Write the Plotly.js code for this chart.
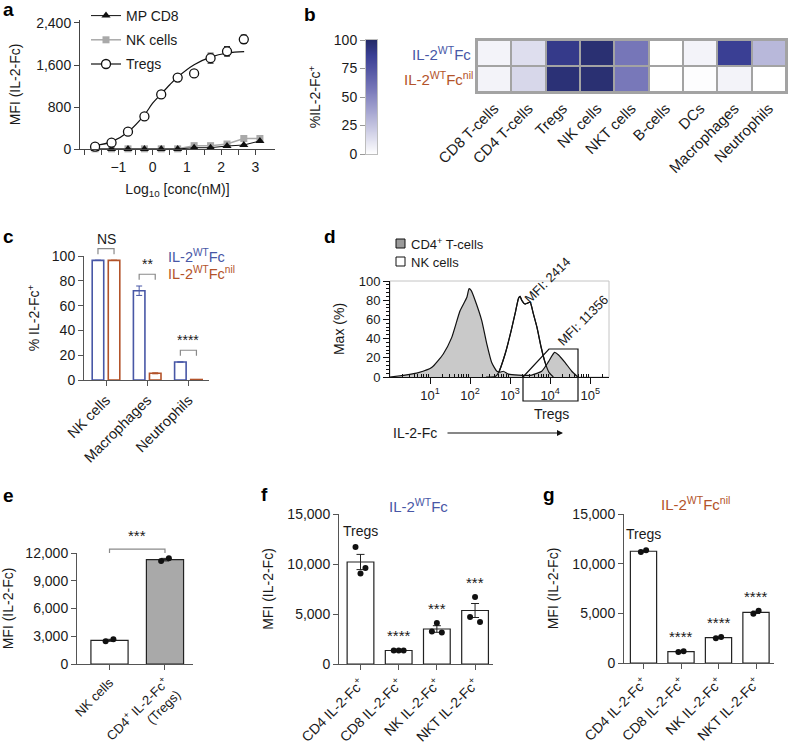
<!DOCTYPE html>
<html><head><meta charset="utf-8">
<script src="https://cdn.plot.ly/plotly-3.0.1.min.js"></script>
<style>html,body{margin:0;padding:0;background:#fff}#chart{width:788px;height:746px}</style>
</head><body><div id="chart"></div>
<script>
// ================= DATA =================
// (a) binding curves
const aLogConc = [-1.68, -1.20, -0.72, -0.24, 0.25, 0.73, 1.21, 1.69, 2.17, 2.66, 3.13];
const aTregs = [45, 120, 330, 620, 1040, 1360, 1440, 1730, 1860, 2090];
const aTregsErr = [0, 0, 0, 0, 65, 0, 0, 95, 90, 80];
const aNK = [3, 3, 3, 3, 3, 3, 64, 64, 95, 200, 200];
const aMPCD8 = [0, 0, 0, 0, 0, 0, 25, 25, 57, 76, 153];
const aFitLogConc = [-1.68, -1.19, -0.71, -0.24, 0, 0.25, 0.5, 0.73, 1.21, 1.69, 2.19, 2.67];
const aFitMFI = [64, 140, 330, 650, 873, 1050, 1223, 1370, 1605, 1750, 1828, 1853];
const aTickVals = [-1, 0, 1, 2, 3];
const aYTicks = [0, 800, 1600, 2400];

// (b) heatmap
const bCells = ['CD8 T-cells', 'CD4 T-cells', 'Tregs', 'NK cells', 'NKT cells', 'B-cells', 'DCs', 'Macrophages', 'Neutrophils'];
const bWT = [5, 14, 90, 97, 58, 0, 5, 87, 30];
const bNil = [5, 17, 96, 97, 57, 0, 1, 5, 0];
const bScaleTicks = [0, 25, 50, 75, 100];

// (c) % IL-2-Fc+
const cCells = ['NK cells', 'Macrophages', 'Neutrophils'];
const cWT = [96.5, 72, 14.5];
const cWTErr = [0, 3.8, 0];
const cNil = [96.5, 5.4, 0.4];
const cNilErr = [0, 0.4, 0];
const cSig = ['NS', '**', '****'];

// (d) histograms (fluorescence intensity, % of max)
const dCD4X = [1, 2.37, 5.13, 10.96, 21.4, 34.7, 56.2, 83.2, 94.4, 107.2, 133.4, 195, 263, 346.7, 467.7, 562.3, 676.1, 912, 1622, 3467, 6166, 9120, 12882, 16218, 23714, 34674, 48978];
const dCD4Y = [0, 2, 4.5, 9.8, 24, 41, 69, 83, 92, 90, 80, 59, 34, 15, 6, 5, 6, 3, 2, 2, 6, 16, 25.6, 23, 15, 6, 0];
const dNKX = [251, 421.7, 512.9, 749.9, 1059, 1380, 1622, 1778, 1950, 2371, 2754, 3162, 3802, 4677, 5957, 7499, 9441, 12023];
const dNKY = [0, 0.5, 4.5, 24, 48, 69, 82, 84, 80, 76, 77, 78, 66, 52, 31, 15, 4.5, 0];
const dTickVals = [10, 100, 1000, 10000, 100000];
const dTickText = ['10<sup>1</sup>', '10<sup>2</sup>', '10<sup>3</sup>', '10<sup>4</sup>', '10<sup>5</sup>'];

// (e)
const eCells = ['NK cells', 'CD4<sup>+</sup> IL-2-Fc<sup>+</sup><br>(Tregs)'];
const eMean = [2560, 11280];
const eSem = [110, 140];
const ePoints = [[2450, 2680], [11130, 11420]];
const eSig = '***';

// (f) IL-2 WT Fc
const fgCells = ['CD4 IL-2-Fc<sup>+</sup>', 'CD8 IL-2-Fc<sup>+</sup>', 'NK IL-2-Fc<sup>+</sup>', 'NKT IL-2-Fc<sup>+</sup>'];
const fMean = [10200, 1350, 3500, 5350];
const fSem = [760, 40, 330, 700];
const fPoints = [[11700, 9060, 9590], [1360, 1360, 1360], [3250, 4100, 3150], [4700, 6700, 4200]];
const fSig = ['', '****', '***', '***'];

// (g) IL-2 WT Fc nil
const gMean = [11250, 1150, 2550, 5100];
const gSem = [80, 35, 60, 120];
const gPoints = [[11180, 11350], [1100, 1180], [2480, 2620], [4970, 5250]];
const gSig = ['', '****', '****', '****'];

// ================= LAYOUT HELPERS =================
const W = 788, H = 746;
const BLUE = '#4857a6', BROWN = '#b3532a', AX = '#444', TXT = '#1a1a1a';
const FONT = 'Liberation Sans, Arial, Helvetica, sans-serif';
const X = (a, b) => [a / W, b / W];
const Y = (top, bottom) => [1 - bottom / H, 1 - top / H];
const pxX = x => x / W, pxY = y => 1 - y / H;

function baseAx(extra) {
  return Object.assign({
    showline: true, linecolor: AX, linewidth: 1, ticks: 'outside', ticklen: 5, tickcolor: AX, tickwidth: 1,
    showgrid: false, zeroline: false, tickfont: {size: 14, color: TXT, family: FONT}, fixedrange: true, automargin: false
  }, extra);
}
function ttl(text, standoff, size) { return {text: text, standoff: standoff, font: {size: size || 14, color: TXT, family: FONT}}; }

const layout = {
  width: W, height: H, margin: {l: 0, r: 0, t: 0, b: 0, pad: 0},
  paper_bgcolor: '#ffffff', plot_bgcolor: 'rgba(0,0,0,0)',
  font: {family: FONT, size: 14, color: TXT},
  barmode: 'overlay', showlegend: true,
  legend: {x: 86 / W, xanchor: 'left', y: 1, yanchor: 'top', bgcolor: 'rgba(0,0,0,0)',
           font: {size: 14, color: TXT}, itemwidth: 30, traceorder: 'grouped', tracegroupgap: 3},
  // (a)
  xaxis: baseAx({domain: X(80, 275), range: [-2.12, 3.57], anchor: 'y', tickvals: aTickVals,
    minor: {tickvals: [-2, -1.5, -0.5, 0.5, 1.5, 2.5], ticks: 'outside', ticklen: 5, tickcolor: AX},
    title: ttl('Log<sub>10</sub> [conc(nM)]', 10)}),
  yaxis: baseAx({domain: Y(20, 149), range: [0, 2457], anchor: 'x', tickvals: aYTicks, tickformat: ',',
    title: ttl('MFI (IL-2-Fc)', 12)}),
  // (b) heatmap
  xaxis2: baseAx({domain: X(477, 786), range: [-0.5, 8.5], anchor: 'y2', tickvals: bCells.map((c, i) => i), ticktext: bCells,
    tickangle: -45, ticks: '', showline: true, mirror: true, linecolor: '#a3a3a3', linewidth: 2, tickfont: {size: 15, color: TXT}}),
  yaxis2: baseAx({domain: Y(40, 92), range: [1.5, -0.5], anchor: 'x2', showticklabels: false, ticks: '',
    showline: true, mirror: true, linecolor: '#a3a3a3', linewidth: 2}),
  // (b) scale bar
  xaxis3: baseAx({domain: X(366, 377), range: [-0.5, 0.5], anchor: 'y3', showticklabels: false, ticks: '',
    linecolor: '#bdbdbd', mirror: true}),
  yaxis3: baseAx({domain: Y(40, 154), range: [0, 100], anchor: 'x3', tickvals: bScaleTicks, linecolor: '#bdbdbd', mirror: true,
    tickcolor: '#999', tickfont: {size: 14, color: TXT}, title: ttl('%IL-2-Fc<sup>+</sup>', 9)}),
  // (c)
  xaxis4: baseAx({domain: X(84, 209), range: [-0.534, 2.5], anchor: 'y4', tickvals: [0, 1, 2], ticktext: cCells, tickangle: -45,
    linecolor: '#555', tickcolor: '#555', tickfont: {size: 14.5, color: TXT}}),
  yaxis4: baseAx({domain: Y(256, 380), range: [0, 100], anchor: 'x4', dtick: 20, linecolor: '#555', tickcolor: '#555',
    title: ttl('% IL-2-Fc<sup>+</sup>', 8)}),
  // (d)
  xaxis5: baseAx({type: 'log', domain: X(390, 609), range: [0, 5.47], anchor: 'y5', tickvals: dTickVals, ticktext: dTickText,
    ticklen: 6, linecolor: '#111', tickcolor: '#111', tickfont: {size: 13, color: TXT},
    minor: {tickvals: [0, 1, 2, 3, 4, 5].flatMap(p => [2, 3, 4, 5, 6, 7, 8, 9].map(k => k * Math.pow(10, p))), ticks: 'inside', ticklen: 3, tickcolor: '#111'}}),
  yaxis5: baseAx({domain: Y(281, 377), range: [0, 100], anchor: 'x5', dtick: 20, ticklen: 6, linecolor: '#111', tickcolor: '#111',
    tickfont: {size: 13, color: TXT}, minor: {dtick: 4, ticks: 'outside', ticklen: 3, tickcolor: '#111'},
    title: ttl('Max (%)', 10)}),
  // (e)
  xaxis6: baseAx({domain: X(77, 193), range: [-0.586, 1.505], anchor: 'y6', tickvals: [0, 1], ticktext: eCells, tickangle: -45,
    tickfont: {size: 13, color: TXT}, linecolor: '#555', tickcolor: '#555'}),
  yaxis6: baseAx({domain: Y(553, 664), range: [0, 12000], anchor: 'x6', tickvals: [0, 3000, 6000, 9000, 12000], tickformat: ',',
    linecolor: '#555', tickcolor: '#555', title: ttl('MFI (IL-2-Fc)', 12)}),
  // (f)
  xaxis7: baseAx({domain: X(339, 493), range: [-0.563, 3.47], anchor: 'y7', tickvals: [0, 1, 2, 3], ticktext: fgCells, tickangle: -45,
    linecolor: '#555', tickcolor: '#555'}),
  yaxis7: baseAx({domain: Y(514, 664), range: [0, 15000], anchor: 'x7', dtick: 5000, tickformat: ',', linecolor: '#555', tickcolor: '#555',
    title: ttl('MFI (IL-2-Fc)', 10)}),
  // (g)
  xaxis8: baseAx({domain: X(624, 774), range: [-0.52, 3.48], anchor: 'y8', tickvals: [0, 1, 2, 3], ticktext: fgCells, tickangle: -45,
    linecolor: '#555', tickcolor: '#555'}),
  yaxis8: baseAx({domain: Y(514, 663), range: [0, 15000], anchor: 'x8', dtick: 5000, tickformat: ',', linecolor: '#555', tickcolor: '#555',
    title: ttl('MFI (IL-2-Fc)', 10)}),
  shapes: [], annotations: []
};

// data -> paper converters (for brackets / labels placed outside ranges)
function paperX(ax, v) {
  const a = layout[ax], r = a.range; const val = a.type === 'log' ? Math.log10(v) : v;
  return a.domain[0] + (val - r[0]) / (r[1] - r[0]) * (a.domain[1] - a.domain[0]);
}
function paperY(ax, v) {
  const a = layout[ax], r = a.range;
  return a.domain[0] + (v - r[0]) / (r[1] - r[0]) * (a.domain[1] - a.domain[0]);
}
function note(text, x, y, opt) {
  layout.annotations.push(Object.assign({text: text, x: x, y: y, xref: 'paper', yref: 'paper', showarrow: false,
    xanchor: 'center', yanchor: 'middle', font: {size: 14, color: TXT, family: FONT}}, opt || {}));
}
function bracket(xa, ya, x0, x1, yTop, leg, color) {
  const X0 = paperX(xa, x0), X1 = paperX(xa, x1), YT = paperY(ya, yTop), YL = paperY(ya, yTop - leg);
  layout.shapes.push({type: 'path', xref: 'paper', yref: 'paper',
    path: `M${X0},${YL} L${X0},${YT} L${X1},${YT} L${X1},${YL}`, line: {color: color, width: 1.2}});
}

// ================= TRACES =================
const traces = [];
// (a)
traces.push({type: 'scatter', x: aLogConc, y: aNK, mode: 'lines+markers', name: 'NK cells', xaxis: 'x', yaxis: 'y', legendrank: 2,
  line: {color: '#a9a9a9', width: 1.5}, marker: {symbol: 'square', size: 7, color: '#a9a9a9'}, cliponaxis: false, legendgroup: 'a2'});
traces.push({type: 'scatter', x: aLogConc, y: aMPCD8, mode: 'lines+markers', name: 'MP CD8', xaxis: 'x', yaxis: 'y', legendrank: 1,
  line: {color: '#111', width: 1}, marker: {symbol: 'triangle-up', size: 8, color: '#111'}, cliponaxis: false, legendgroup: 'a1'});
traces.push({type: 'scatter', x: aFitLogConc, y: aFitMFI, mode: 'lines', xaxis: 'x', yaxis: 'y', showlegend: false,
  line: {color: '#111', width: 1.2, shape: 'spline', smoothing: 1}});
traces.push({type: 'scatter', x: aLogConc.slice(0, aTregs.length), y: aTregs, mode: 'markers', xaxis: 'x', yaxis: 'y', showlegend: false,
  marker: {symbol: 'circle', size: 9, color: '#fff', line: {color: '#111', width: 1.3}}, cliponaxis: false,
  error_y: {type: 'data', array: aTregsErr, color: '#111', thickness: 1, width: 3}});
traces.push({type: 'scatter', x: [null], y: [null], mode: 'lines+markers', name: 'Tregs', xaxis: 'x', yaxis: 'y', legendgroup: 'a3', legendrank: 3,
  line: {color: '#111', width: 1.2}, marker: {symbol: 'circle', size: 9, color: '#fff', line: {color: '#111', width: 1.3}}});

// (b)
const bScale = [[0, '#ffffff'], [0.58, '#7676b8'], [0.87, '#3a3f94'], [1, '#252b68']];
traces.push({type: 'heatmap', x: bCells.map((c, i) => i), y: [0, 1], z: [bWT, bNil], xaxis: 'x2', yaxis: 'y2',
  colorscale: bScale, zmin: 0, zmax: 100, showscale: false, xgap: 2, ygap: 2, hoverinfo: 'skip', showlegend: false});
traces.push({type: 'heatmap', x: [0], y: bScaleTicks, z: bScaleTicks.map(v => [v]), xaxis: 'x3', yaxis: 'y3', zsmooth: 'best',
  colorscale: bScale, zmin: 0, zmax: 100, showscale: false, hoverinfo: 'skip', showlegend: false});
layout.shapes.push({type: 'rect', xref: 'x2 domain', yref: 'y2 domain', x0: 0, x1: 1, y0: 0, y1: 1, layer: 'below',
  fillcolor: '#a3a3a3', line: {width: 0}});

// (c)
const cIdx = cCells.map((c, i) => i);
traces.push({type: 'bar', x: cIdx, y: cWT, width: 0.28, offset: -0.335, xaxis: 'x4', yaxis: 'y4', showlegend: false,
  marker: {color: '#fff', line: {color: BLUE, width: 1.6}},
  error_y: {type: 'data', array: cWTErr, color: BLUE, thickness: 1, width: 3}});
traces.push({type: 'bar', x: cIdx, y: cNil, width: 0.28, offset: 0.055, xaxis: 'x4', yaxis: 'y4', showlegend: false,
  marker: {color: '#fff', line: {color: BROWN, width: 1.6}},
  error_y: {type: 'data', array: cNilErr, color: BROWN, thickness: 1, width: 3}});
cIdx.forEach(i => {
  const top = Math.max(cWT[i] + cWTErr[i], cNil[i] + cNilErr[i]) + 9.5;
  bracket('xaxis4', 'yaxis4', i - 0.195, i + 0.195, top, 4.5, '#8a8a8a');
  note(cSig[i], paperX('xaxis4', i), paperY('yaxis4', top + 8), {font: {size: 14, color: TXT}});
});
note('IL-2<sup>WT</sup>Fc', pxX(166), pxY(256), {xanchor: 'left', font: {size: 14.5, color: BLUE}});
note('IL-2<sup>WT</sup>Fc<sup>nil</sup>', pxX(166), pxY(273), {xanchor: 'left', font: {size: 14.5, color: BROWN}});

// (d)
traces.push({type: 'scatter', x: dNKX, y: dNKY, mode: 'lines', fill: 'tozeroy', fillcolor: '#ffffff', xaxis: 'x5', yaxis: 'y5',
  line: {color: '#111', width: 1.2, shape: 'spline', smoothing: 0.5}, showlegend: false});
traces.push({type: 'scatter', x: dCD4X, y: dCD4Y, mode: 'lines', fill: 'tozeroy', fillcolor: '#c9c9c9', xaxis: 'x5', yaxis: 'y5',
  line: {color: '#111', width: 1.2, shape: 'spline', smoothing: 0.5}, showlegend: false});
traces.push({type: 'scatter', x: dNKX, y: dNKY, mode: 'lines', xaxis: 'x5', yaxis: 'y5',
  line: {color: '#111', width: 1.2, shape: 'spline', smoothing: 0.5}, showlegend: false});
layout.shapes.push({type: 'rect', xref: 'x5 domain', yref: 'y5 domain', x0: 0, x1: 1, y0: 0, y1: 1, layer: 'below',
  line: {color: '#c4c4c4', width: 1}});
// gate
const gate = [[523, 377], [549, 349], [578, 349], [578, 401], [523, 401]];
layout.shapes.push({type: 'path', xref: 'paper', yref: 'paper', line: {color: '#111', width: 1.2},
  path: 'M' + gate.map(p => pxX(p[0]) + ',' + pxY(p[1])).join(' L') + ' Z'});
note('Tregs', pxX(551), pxY(414), {font: {size: 14, color: TXT}});
note('MFI: 2414', pxX(547), pxY(280), {textangle: -45, font: {size: 13, color: TXT}});
note('MFI: 11356', pxX(583), pxY(321), {textangle: -45, font: {size: 13, color: TXT}});
// legend (d)
layout.shapes.push({type: 'rect', xref: 'paper', yref: 'paper', x0: pxX(396), x1: pxX(405), y0: pxY(248), y1: pxY(239),
  fillcolor: '#9a9a9a', line: {color: '#111', width: 1}});
layout.shapes.push({type: 'rect', xref: 'paper', yref: 'paper', x0: pxX(396), x1: pxX(405), y0: pxY(266), y1: pxY(257),
  fillcolor: '#ffffff', line: {color: '#111', width: 1}});
note('CD4<sup>+</sup> T-cells', pxX(409), pxY(244), {xanchor: 'left', font: {size: 13, color: TXT}});
note('NK cells', pxX(409), pxY(262), {xanchor: 'left', font: {size: 13, color: TXT}});
note('IL-2-Fc', pxX(391), pxY(433), {xanchor: 'left', font: {size: 14, color: TXT}});
layout.annotations.push({text: '', x: pxX(563), y: pxY(433), xref: 'paper', yref: 'paper', showarrow: true,
  ax: -117, ay: 0, arrowhead: 2, arrowsize: 1, arrowwidth: 1.2, arrowcolor: '#111'});

// dot-plot panels helper
function dotBars(xa, ya, means, sems, pts, colors) {
  const idx = means.map((m, i) => i);
  traces.push({type: 'bar', x: idx, y: means, width: xa === 'x6' ? 0.67 : 0.7, xaxis: xa, yaxis: ya, showlegend: false,
    marker: {color: colors, line: {color: '#222', width: 1.2}},
    error_y: {type: 'data', array: sems, color: '#222', thickness: 1, width: 4}});
  const px = [], py = [];
  pts.forEach((list, i) => {
    const off = list.length === 3 ? [-0.13, 0, 0.13] : [-0.07, 0.07];
    list.forEach((v, j) => { px.push(i + off[j]); py.push(v); });
  });
  traces.push({type: 'scatter', mode: 'markers', x: px, y: py, xaxis: xa, yaxis: ya, showlegend: false, cliponaxis: false,
    marker: {color: '#111', size: 6}});
}
// (e)
dotBars('x6', 'y6', eMean, eSem, ePoints, ['#ffffff', '#a9a9a9']);
{
  const top = Math.max(...ePoints.flat()) + 1000;
  bracket('xaxis6', 'yaxis6', 0, 1, top, 430, '#8a8a8a');
  note(eSig, paperX('xaxis6', 0.5), paperY('yaxis6', top + 1450), {font: {size: 15, color: TXT}});
}
// (f)
dotBars('x7', 'y7', fMean, fSem, fPoints, '#ffffff');
// (g)
dotBars('x8', 'y8', gMean, gSem, gPoints, '#ffffff');
[['xaxis7', 'yaxis7', fPoints, fSig], ['xaxis8', 'yaxis8', gPoints, gSig]].forEach(([xa, ya, pts, sig]) => {
  pts.forEach((list, i) => {
    const top = Math.max(...list);
    if (i === 0) note('Tregs', paperX(xa, i), paperY(ya, top + 1650), {font: {size: 14, color: TXT}});
    else note(sig[i], paperX(xa, i), paperY(ya, top + 1450), {font: {size: 15, color: TXT}});
  });
});
note('IL-2<sup>WT</sup>Fc', pxX(418), pxY(505), {font: {size: 15, color: BLUE}});
note('IL-2<sup>WT</sup>Fc<sup>nil</sup>', pxX(695), pxY(503), {font: {size: 15, color: BROWN}});

// (b) row labels
note('IL-2<sup>WT</sup>Fc', pxX(473), pxY(53), {xanchor: 'right', font: {size: 15, color: BLUE}});
note('IL-2<sup>WT</sup>Fc<sup>nil</sup>', pxX(475), pxY(79), {xanchor: 'right', font: {size: 15, color: BROWN}});

// panel letters
[['a', 1, 9], ['b', 302, 14], ['c', 1, 236], ['d', 322, 236], ['e', 1, 495], ['f', 259, 494], ['g', 541, 494]].forEach(([t, x, y]) =>
  note('<b>' + t + '</b>', pxX(x), pxY(y), {xanchor: 'left', font: {size: 19, color: '#000'}}));

Plotly.newPlot('chart', traces, layout, {staticPlot: true, displayModeBar: false});
</script>
</body></html>
